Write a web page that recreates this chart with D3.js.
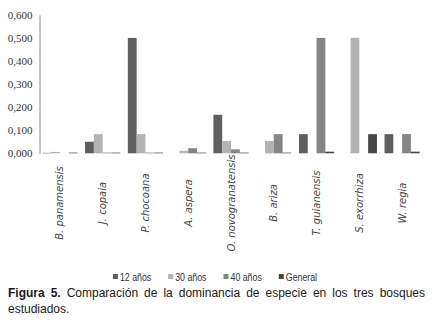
<!DOCTYPE html>
<html>
<head>
<meta charset="utf-8">
<script src="https://cdn.jsdelivr.net/npm/d3@7"></script>
<style>
  html, body { margin: 0; padding: 0; background: #fff; }
  svg { display: block; }
</style>
</head>
<body>
<svg id="chart" width="433" height="336"></svg>
<script>
// Species (x categories)
const categories = [
  "B. panamensis", "J. copaia", "P. chocoana", "A. aspera", "O. novogranatensis",
  "B. ariza", "T. guianensis", "S. exorrhiza", "W. regia"
];
// Series names
const seriesNames = ["12 años", "30 años", "40 años", "General"];
// Dominance values per series
const values12 = [0.002, 0.050, 0.500, 0.000, 0.167, 0.000, 0.083, 0.000, 0.083];
const values30 = [0.006, 0.083, 0.083, 0.011, 0.053, 0.053, 0.000, 0.500, 0.000];
const values40 = [0.000, 0.003, 0.003, 0.022, 0.017, 0.083, 0.500, 0.000, 0.083];
const valuesGeneral = [0.003, 0.003, 0.003, 0.003, 0.003, 0.003, 0.007, 0.083, 0.007];
// Y axis ticks
const yTicks = [0, 0.1, 0.2, 0.3, 0.4, 0.5, 0.6];

const seriesValues = [values12, values30, values40, valuesGeneral];
const colors = ["#5f5f5f", "#b3b3b3", "#858585", "#474747"];

const svg = d3.select("#chart");

const x0 = d3.scaleBand()
  .domain(categories)
  .range([38.5, 423.5])
  .paddingInner(0.177)
  .paddingOuter(0.0885);

const x1 = d3.scaleBand()
  .domain(seriesNames)
  .range([0, x0.bandwidth()]);

const y = d3.scaleLinear().domain([0, 0.6]).range([153.3, 14.8]);

// Y axis
const yAxis = d3.axisLeft(y)
  .tickValues(yTicks)
  .tickSize(0)
  .tickPadding(7)
  .tickFormat(d => d3.format(".3f")(d).replace(".", ","));

const gy = svg.append("g")
  .attr("transform", "translate(39.5,0)")
  .call(yAxis);
gy.select(".domain").attr("stroke", "#8c8c8c").attr("stroke-width", 1);
gy.selectAll("text")
  .attr("font-family", "'Liberation Serif', serif")
  .attr("font-size", 11)
  .attr("fill", "#333");

// Bars
const rows = categories.map((c, i) => ({
  cat: c,
  vals: seriesNames.map((s, k) => ({ s, k, v: seriesValues[k][i] }))
}));

const groups = svg.append("g").selectAll("g")
  .data(rows)
  .join("g")
  .attr("transform", d => `translate(${x0(d.cat)},0)`);

groups.selectAll("rect")
  .data(d => d.vals.filter(e => e.v > 0))
  .join("rect")
  .attr("x", d => x1(d.s))
  .attr("width", x1.bandwidth())
  .attr("y", d => y(d.v))
  .attr("height", d => y(0) - y(d.v))
  .attr("fill", d => colors[d.k]);

// Category labels (rotated, italic)
svg.append("g").selectAll("text")
  .data(categories)
  .join("text")
  .attr("transform", d => `translate(${x0(d) + x0.bandwidth() / 2},203) rotate(-90)`)
  .attr("text-anchor", "middle")
  .attr("dominant-baseline", "central")
  .attr("font-family", "'DejaVu Sans', sans-serif")
  .attr("font-style", "italic")
  .attr("font-size", 10)
  .attr("fill", "#444")
  .text(d => d);

// Legend (narrow text)
const squeeze = 0.8;
const legend = svg.append("g");
const items = legend.selectAll("g")
  .data(seriesNames)
  .join("g");
items.append("rect")
  .attr("width", 5).attr("height", 5)
  .attr("y", -3)
  .attr("fill", (d, i) => colors[i]);
items.append("text")
  .attr("transform", `translate(7,0) scale(${squeeze},1)`)
  .attr("dominant-baseline", "central")
  .attr("font-family", "'Liberation Sans', Arial, sans-serif")
  .attr("font-size", 11)
  .attr("fill", "#333")
  .text(d => d);
let lx = 0;
const legendGap = 17;
items.each(function () {
  const w = this.querySelector("text").getComputedTextLength() * squeeze + 7;
  d3.select(this).attr("data-x", lx);
  lx += w + legendGap;
});
const legendWidth = lx - legendGap;
const legendStart = 215 - legendWidth / 2;
items.attr("transform", function () {
  return `translate(${legendStart + (+this.getAttribute("data-x"))},277)`;
});

// Caption (justified first line)
const captionLines = [
  [{ t: "Figura", b: true }, { t: "5.", b: true }, { t: "Comparación" }, { t: "de" }, { t: "la" },
   { t: "dominancia" }, { t: "de" }, { t: "especie" }, { t: "en" }, { t: "los" }, { t: "tres" }, { t: "bosques" }],
  [{ t: "estudiados." }]
];
const capLeft = 8, capRight = 425;
captionLines.forEach((line, li) => {
  const yy = 297 + li * 15.5;
  const texts = line.map(w => svg.append("text")
    .attr("y", yy)
    .attr("font-family", "'Liberation Sans', Arial, sans-serif")
    .attr("font-size", 12)
    .attr("font-weight", w.b ? "bold" : "normal")
    .attr("fill", "#1a1a1a")
    .text(w.t));
  const widths = texts.map(t => t.node().getComputedTextLength());
  const total = d3.sum(widths);
  const justify = li < captionLines.length - 1 && line.length > 1;
  const gap = justify ? (capRight - capLeft - total) / (line.length - 1) : 3.3;
  let cx = capLeft;
  texts.forEach((t, i) => { t.attr("x", cx); cx += widths[i] + gap; });
});
</script>
</body>
</html>
